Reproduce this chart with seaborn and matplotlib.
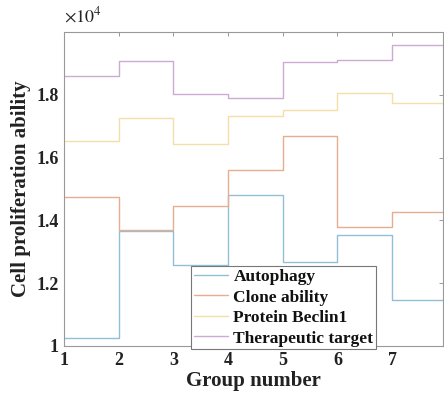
import matplotlib
matplotlib.use("Agg")
import matplotlib.pyplot as plt
import seaborn as sns
import pandas as pd
from matplotlib.ticker import FuncFormatter

groups = [1, 2, 3, 4, 5, 6, 7, 8]
autophagy = [10270, 13650, 12590, 14800, 12680, 13550, 11470, 11470]
clone_ability = [14760, 13690, 14460, 15600, 16700, 13790, 14270, 14270]
protein_beclin1 = [16520, 17260, 16430, 17320, 17520, 18070, 17740, 17740]
therapeutic_target = [18610, 19070, 18010, 17890, 19050, 19100, 19600, 19600]
series_names = ["Autophagy", "Clone ability", "Protein Beclin1", "Therapeutic target"]
colors = ["#92bfd8", "#e6ad90", "#f3e0a8", "#cdaad3"]
xticks = [1, 2, 3, 4, 5, 6, 7]
yticks = [10000, 12000, 14000, 16000, 18000]

rows = []
for name, vals in zip(series_names, [autophagy, clone_ability, protein_beclin1, therapeutic_target]):
    for g, v in zip(groups, vals):
        rows.append({"Group": g, "value": v, "series": name})
df = pd.DataFrame(rows)

sns.set_style("white")
plt.rcParams["font.family"] = ["Liberation Serif", "DejaVu Serif"]
plt.rcParams["mathtext.fontset"] = "stix"

fig = plt.figure(figsize=(4.44, 4.01), dpi=100)
ax = fig.add_axes([64/444, 1 - 346/401, (443 - 64)/444, (346 - 32)/401])

sns.lineplot(data=df, x="Group", y="value", hue="series", palette=colors,
             drawstyle="steps-post", linewidth=1.0, ax=ax, legend=True)

ax.set_xlim(1, 7.93)
ax.set_ylim(10000, 20000)
ax.set_xticks(xticks)
ax.set_yticks(yticks)
ax.yaxis.set_major_formatter(FuncFormatter(lambda v, p: "%g" % (v / 1e4)))
ax.tick_params(direction="in", length=3, width=0.6, colors="#888888",
               top=True, right=True, labelsize=13, pad=4)
for lab in ax.get_xticklabels() + ax.get_yticklabels():
    lab.set_fontweight("bold")
    lab.set_color("#222222")
for sp in ax.spines.values():
    sp.set_visible(True)
    sp.set_color("#999999")
    sp.set_linewidth(0.8)

ax.set_xlabel("Group number", fontsize=15, fontweight="bold", color="#222222", labelpad=2)
ax.set_ylabel("Cell proliferation ability", fontsize=15, fontweight="bold", color="#222222", labelpad=4)
ax.text(0.0, 1.02, r"$\times10^{4}$", transform=ax.transAxes, fontsize=13,
        ha="left", va="bottom", color="#222222")

handles, labels = ax.get_legend_handles_labels()
leg = ax.legend(handles, labels, loc="lower left", bbox_to_anchor=(0.335, -0.01),
                frameon=True, fancybox=False, framealpha=1, edgecolor="#777777",
                prop={"family": "Liberation Serif", "weight": "bold", "size": 12.5},
                handlelength=2.0, handletextpad=0.3, labelspacing=0.25,
                borderpad=0.15, borderaxespad=0)
leg.get_frame().set_linewidth(0.8)
for t in leg.get_texts():
    t.set_color("#111111")

fig.savefig("out.png", dpi=100)
